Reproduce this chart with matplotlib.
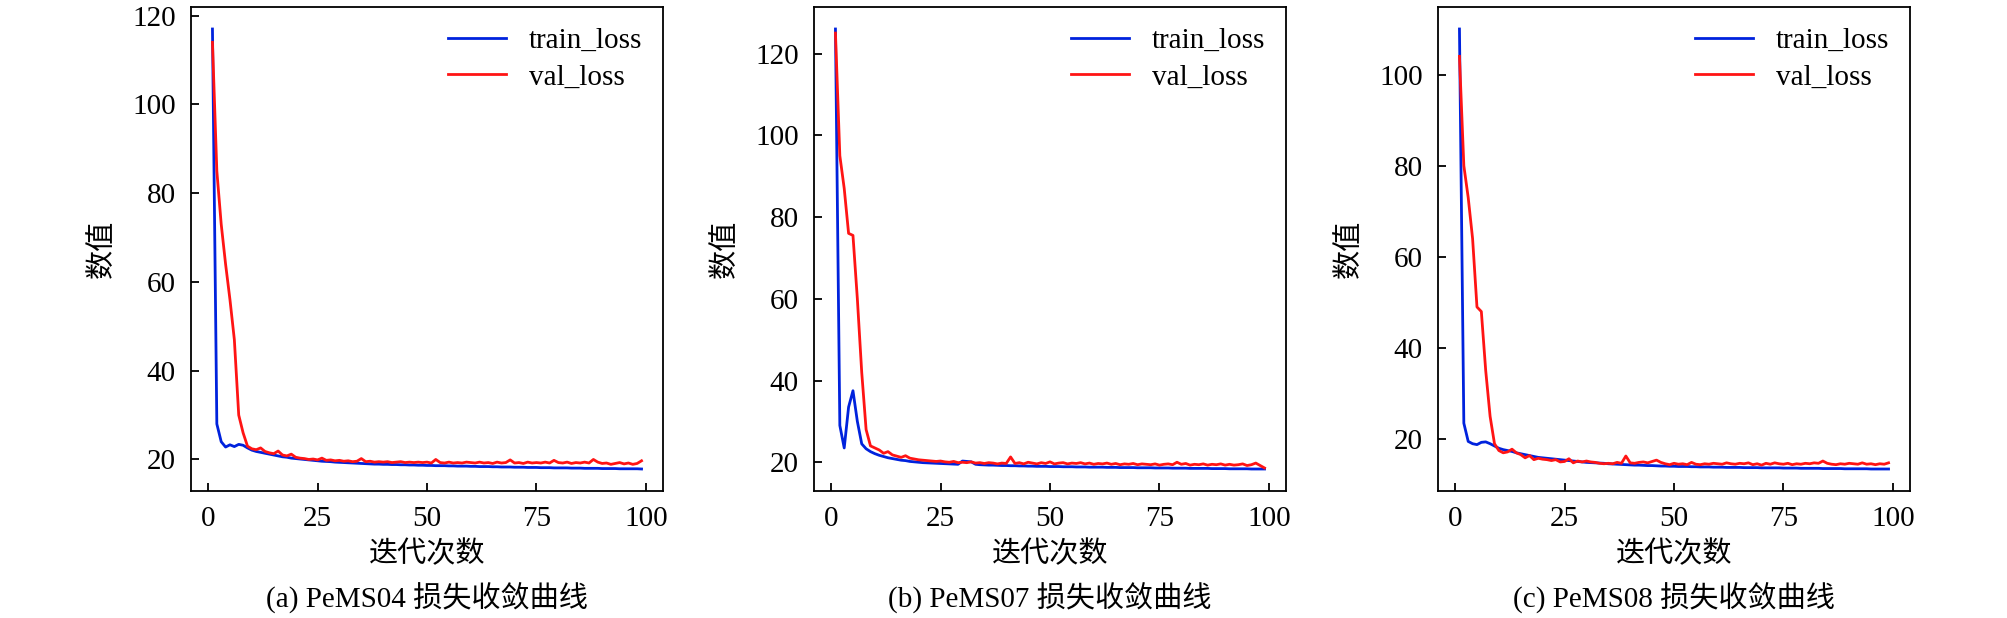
import matplotlib
matplotlib.use("Agg")
import matplotlib.pyplot as plt
import numpy as np

plt.rcParams['font.family'] = ['Liberation Serif', 'Noto Sans CJK SC']
plt.rcParams['font.size'] = 21

# 迭代次数
epochs = np.arange(1, 100)

# PeMS04
train_04 = [117, 28.0, 24.0, 22.8, 23.3, 22.9, 23.4, 23.2, 22.6, 22.1,
            21.8, 21.6, 21.4, 21.2, 21.0, 20.8, 20.6, 20.5, 20.3, 20.2,
            20.1, 20.0, 19.9, 19.8, 19.7, 19.6, 19.55, 19.5, 19.4, 19.35,
            19.3, 19.25, 19.2, 19.15, 19.1, 19.05, 19.0, 18.95, 18.95, 18.9,
            18.9, 18.85, 18.85, 18.8, 18.8, 18.75, 18.75, 18.7, 18.7, 18.65,
            18.65, 18.6, 18.6, 18.6, 18.55, 18.55, 18.5, 18.5, 18.5, 18.45,
            18.45, 18.4, 18.4, 18.4, 18.35, 18.35, 18.3, 18.3, 18.3, 18.25,
            18.25, 18.25, 18.2, 18.2, 18.2, 18.15, 18.15, 18.15, 18.1, 18.1,
            18.1, 18.1, 18.05, 18.05, 18.05, 18.0, 18.0, 18.0, 18.0, 17.95,
            17.95, 17.95, 17.95, 17.9, 17.9, 17.9, 17.9, 17.9, 17.85]
val_04 = [114, 85, 73, 64, 56, 47, 30, 26, 23, 22.4,
          22.2, 22.6, 21.8, 21.5, 21.3, 21.9, 21.0, 20.8, 21.2, 20.5,
          20.3, 20.2, 20.0, 20.1, 19.9, 20.3, 19.8, 19.9, 19.7, 19.8,
          19.6, 19.7, 19.5, 19.6, 20.2, 19.5, 19.6, 19.4, 19.5, 19.4,
          19.5, 19.3, 19.4, 19.5, 19.3, 19.4, 19.3, 19.4, 19.3, 19.4,
          19.2, 20.0, 19.3, 19.2, 19.4, 19.2, 19.3, 19.2, 19.4, 19.3,
          19.2, 19.4, 19.2, 19.3, 19.1, 19.4, 19.2, 19.3, 19.9, 19.2,
          19.3, 19.1, 19.4, 19.2, 19.3, 19.2, 19.4, 19.2, 19.8, 19.3,
          19.2, 19.4, 19.1, 19.3, 19.2, 19.4, 19.2, 20.0, 19.4, 19.1,
          19.2, 18.9, 19.1, 19.3, 19.0, 19.2, 18.9, 19.1, 19.7]

# PeMS07
train_07 = [126, 29, 23.5, 33.5, 37.5, 30, 24.5, 23.3, 22.6, 22.1,
            21.7, 21.4, 21.1, 20.9, 20.7, 20.5, 20.4, 20.2, 20.1, 20.0,
            19.9, 19.85, 19.8, 19.75, 19.7, 19.65, 19.6, 19.55, 19.5, 20.3,
            20.2, 20.1, 19.5, 19.4, 19.35, 19.3, 19.3, 19.25, 19.2, 19.2,
            19.15, 19.15, 19.1, 19.1, 19.05, 19.05, 19.0, 19.0, 19.0, 18.95,
            18.95, 18.95, 18.9, 18.9, 18.9, 18.85, 18.85, 18.85, 18.8, 18.8,
            18.8, 18.8, 18.75, 18.75, 18.75, 18.7, 18.7, 18.7, 18.7, 18.65,
            18.65, 18.65, 18.65, 18.6, 18.6, 18.6, 18.6, 18.55, 18.55, 18.55,
            18.55, 18.5, 18.5, 18.5, 18.5, 18.5, 18.45, 18.45, 18.45, 18.45,
            18.4, 18.4, 18.4, 18.4, 18.4, 18.35, 18.35, 18.35, 18.35]
val_07 = [125, 95, 87, 76, 75.5, 60, 42, 28, 24, 23.5,
          23.0, 22.2, 22.6, 21.8, 21.5, 21.2, 21.6, 21.0, 20.8, 20.6,
          20.5, 20.4, 20.3, 20.2, 20.3, 20.1, 20.0, 20.2, 19.9, 20.0,
          19.9, 20.1, 19.8, 19.9, 19.7, 19.9, 19.8, 19.6, 19.8, 19.7,
          21.3, 19.7, 19.9, 19.6, 20.0, 19.8, 19.6, 19.9, 19.7, 20.1,
          19.6, 19.8, 19.9, 19.6, 19.8, 19.7, 19.9, 19.6, 19.8, 19.5,
          19.7, 19.6, 19.8, 19.5, 19.7, 19.4, 19.6, 19.5, 19.7, 19.4,
          19.6, 19.5, 19.4, 19.6, 19.3, 19.5, 19.6, 19.4, 20.0, 19.5,
          19.7, 19.3, 19.5, 19.4, 19.6, 19.3, 19.5, 19.4, 19.6, 19.3,
          19.5, 19.3, 19.4, 19.6, 19.2, 19.4, 19.8, 19.2, 18.6]

# PeMS08
train_08 = [110, 23.5, 19.5, 19.0, 18.8, 19.3, 19.4, 19.0, 18.5, 18.0,
            17.7, 17.5, 17.3, 17.0, 16.8, 16.6, 16.4, 16.2, 16.0, 15.9,
            15.8, 15.7, 15.6, 15.5, 15.4, 15.3, 15.2, 15.1, 15.0, 14.9,
            14.85, 14.8, 14.75, 14.7, 14.6, 14.55, 14.5, 14.45, 14.4, 14.35,
            14.3, 14.3, 14.25, 14.2, 14.2, 14.15, 14.1, 14.1, 14.05, 14.05,
            14.0, 14.0, 14.0, 13.95, 13.95, 13.9, 13.9, 13.9, 13.85, 13.85,
            13.85, 13.8, 13.8, 13.8, 13.8, 13.75, 13.75, 13.75, 13.75, 13.7,
            13.7, 13.7, 13.7, 13.7, 13.65, 13.65, 13.65, 13.65, 13.6, 13.6,
            13.6, 13.6, 13.6, 13.55, 13.55, 13.55, 13.55, 13.55, 13.5, 13.5,
            13.5, 13.5, 13.5, 13.5, 13.45, 13.45, 13.45, 13.45, 13.45]
val_08 = [104, 80, 73, 64, 49, 48, 35, 25, 19, 17.5,
          17.0, 17.2, 17.8, 17.0, 16.6, 15.9, 16.4, 15.5, 15.8, 15.6,
          15.5, 15.3, 15.5, 15.0, 15.1, 15.7, 14.8, 15.2, 15.0, 15.2,
          15.0, 14.9, 14.7, 14.6, 14.7, 14.6, 14.9, 14.7, 16.3, 14.8,
          14.7, 14.9, 15.0, 14.8, 15.1, 15.4, 14.9, 14.6, 14.4, 14.7,
          14.5, 14.6, 14.4, 14.9, 14.5, 14.4, 14.6, 14.5, 14.7, 14.6,
          14.5, 14.8, 14.6, 14.5, 14.7, 14.6, 14.8, 14.4, 14.6, 14.3,
          14.7, 14.5, 14.8, 14.6, 14.5, 14.7, 14.4, 14.6, 14.5, 14.7,
          14.6, 14.8, 14.7, 15.2, 14.7, 14.5, 14.4, 14.6, 14.5, 14.7,
          14.6, 14.5, 14.8, 14.5, 14.6, 14.4, 14.6, 14.5, 14.8]

captions = ['(a) PeMS04 损失收敛曲线', '(b) PeMS07 损失收敛曲线', '(c) PeMS08 损失收敛曲线']
train_all = [train_04, train_07, train_08]
val_all = [val_04, val_07, val_08]
yticks_all = [[20, 40, 60, 80, 100, 120], [20, 40, 60, 80, 100, 120], [20, 40, 60, 80, 100]]

fig = plt.figure(figsize=(20.08, 6.18), dpi=100)
lefts = [191 / 2008, 814 / 2008, 1438 / 2008]
w = 472 / 2008
b = 1 - 491 / 618
h = 484 / 618

for i in range(3):
    ax = fig.add_axes([lefts[i], b, w, h])
    ax.plot(epochs, train_all[i], color='#0022DD', lw=2.0, label='train_loss')
    ax.plot(epochs, val_all[i], color='#FF1414', lw=2.0, label='val_loss')
    ax.set_xticks([0, 25, 50, 75, 100])
    ax.set_yticks(yticks_all[i])
    ax.tick_params(direction='in', length=6, width=1.3, pad=11, top=False, right=False)
    for s in ax.spines.values():
        s.set_linewidth(1.3)
    ax.set_xlabel('迭代次数', labelpad=6)
    ax.set_ylabel('数值', labelpad=12)
    ax.legend(loc='upper right', frameon=False, handlelength=2.0,
              labelspacing=0.35, borderaxespad=0.3)
    # 子图标题放在横轴标签下方
    fig.text(lefts[i] + w / 2, 1 - 598 / 618, captions[i], ha='center', va='center')

fig.savefig('out.png', dpi=100)
